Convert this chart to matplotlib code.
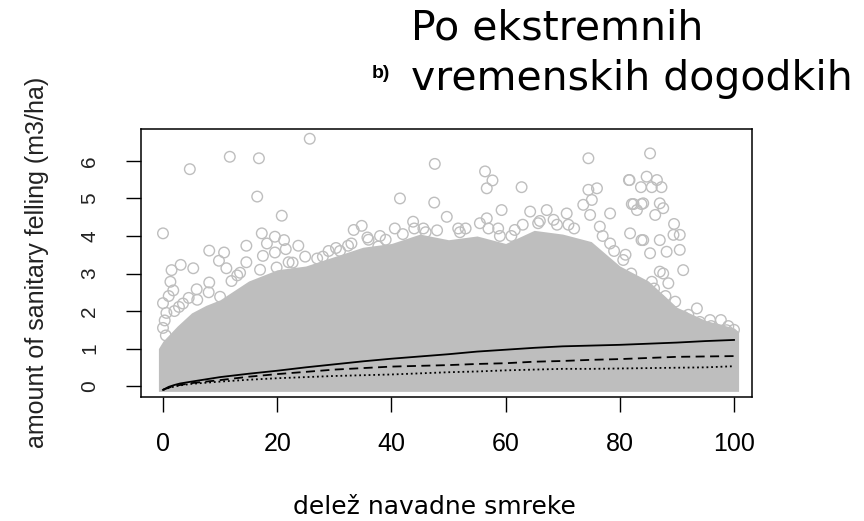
import matplotlib
matplotlib.use("Agg")
import matplotlib.pyplot as plt

# dense part of the cloud: top edge
cloud_x = [-0.8, 0, 2.5, 5, 7.5, 10, 15, 20, 25, 30, 35, 40, 45, 50, 55,
           60, 65, 70, 75, 80, 85, 90, 95, 100, 100.8]
cloud_top = [1.0, 1.2, 1.6, 1.95, 2.15, 2.3, 2.8, 3.1, 3.2, 3.45, 3.7, 3.8, 4.05,
             3.9, 4.0, 3.8, 4.15, 4.05, 3.85, 3.2, 2.8, 2.1, 1.75, 1.55, 1.45]
cloud_bottom = -0.14

# single points standing out above the cloud
pts_x = [25.7, 11.7, 16.8, 4.7, 16.5, 20.8, 0.0, 17.3, 19.6, 18.2, 14.6, 21.2,
         23.7, 21.5, 19.6, 8.1, 10.7, 9.8, 11.1, 5.3, 3.1, 1.5, 1.3, 14.6, 13.5,
         17.5, 24.9, 22.7, 19.9, 8.1, 5.9, 0.0, 0.6, 0.0, 2.8, 10.0, 28.0, 30.3,
         32.4, 33.4, 34.8, 35.8, 37.7,
         47.6, 74.5, 85.3, 41.5, 47.5, 56.4, 57.7, 56.7, 62.8, 74.5, 76.0, 75.1,
         81.6, 84.7, 86.5, 83.7, 85.6, 87.3, 73.6, 82.4, 84.1, 87.0, 64.3, 67.2,
         70.7, 78.3, 59.3, 56.7, 49.7, 43.8, 40.6, 45.6, 51.7, 55.5, 58.7, 61.6,
         65.7, 68.4, 74.8, 76.5, 83.0, 86.2, 81.8, 84.1, 87.0, 85.3, 87.6, 87.0,
         88.2, 78.3, 73.6, 80.6, 78.9,
         81.7, 82.1, 83.8, 87.6, 89.5, 90.5, 89.4, 90.5, 83.8, 88.2, 91.1, 87.0,
         85.6, 88.5, 89.7, 87.3, 93.5, 91.1, 88.8, 91.1, 95.8, 97.7, 94.0, 98.7,
         0.3, 1.0, 1.8, 0.5, 2.0, 3.5, 4.5,
         6, 8, 12, 13, 17, 22, 27, 29, 31, 33, 36, 38, 39, 42, 44, 46, 48, 52,
         53, 57, 59, 61, 63, 66, 69, 71, 72, 77, 79, 81, 82, 83, 86, 88, 92, 94,
         96, 99, 100]
pts_y = [6.59, 6.11, 6.07, 5.78, 5.05, 4.54, 4.07, 4.07, 3.98, 3.80, 3.74, 3.89,
         3.74, 3.65, 3.56, 3.61, 3.56, 3.34, 3.14, 3.14, 3.23, 3.09, 2.78, 3.30, 3.02,
         3.47, 3.45, 3.29, 3.16, 2.76, 2.58, 2.21, 1.95, 1.55, 2.11, 2.38, 3.45, 3.68,
         3.74, 4.16, 4.27, 3.96, 3.72,
         5.92, 6.07, 6.20, 5.00, 4.89, 5.72, 5.48, 5.27, 5.30, 5.23, 5.27, 4.96,
         5.49, 5.58, 5.49, 5.30, 5.30, 5.30, 4.83, 4.85, 4.87, 4.87, 4.65, 4.69,
         4.60, 4.60, 4.69, 4.47, 4.51, 4.38, 4.20, 4.20, 4.20, 4.34, 4.20, 4.16,
         4.34, 4.43, 4.56, 4.25, 4.69, 4.56, 4.07, 3.89, 3.89, 3.54, 3.00, 2.29,
         1.76, 3.80, 3.36, 3.36, 3.00,
         5.49, 4.85, 4.85, 4.74, 4.32, 4.03, 4.03, 3.63, 3.89, 3.58, 3.09, 3.05,
         2.78, 2.74, 2.25, 2.25, 2.07, 1.85, 1.76, 1.54, 1.76, 1.76, 1.71, 1.49,
         1.75, 2.40, 2.55, 1.35, 2.00, 2.20, 2.35,
         2.3, 2.5, 2.8, 2.95, 3.1, 3.3, 3.4, 3.6, 3.6, 3.8, 3.9, 4.0, 3.9, 4.05,
         4.2, 4.1, 4.15, 4.1, 4.2, 4.2, 4.0, 4.0, 4.3, 4.4, 4.3, 4.3, 4.2, 4.0,
         3.6, 3.5, 3.0, 2.7, 2.6, 2.4, 1.9, 1.6, 1.6, 1.6, 1.5]

# three fitted lines
line_x = [0, 1, 2, 3, 5, 7.5, 10, 15, 20, 25, 30, 35, 40, 45, 50, 55, 60, 65,
          70, 75, 80, 85, 90, 95, 100]
solid_y = [-0.10, -0.02, 0.03, 0.07, 0.12, 0.18, 0.24, 0.33, 0.41, 0.50, 0.58,
           0.66, 0.73, 0.79, 0.85, 0.92, 0.97, 1.02, 1.06, 1.08, 1.10, 1.13, 1.16,
           1.20, 1.23]
dashed_y = [-0.10, -0.04, 0.00, 0.03, 0.08, 0.12, 0.16, 0.25, 0.32, 0.38, 0.44,
            0.48, 0.52, 0.54, 0.56, 0.59, 0.61, 0.65, 0.67, 0.70, 0.72, 0.75, 0.78,
            0.79, 0.80]
dotted_y = [-0.10, -0.05, -0.01, 0.02, 0.06, 0.09, 0.12, 0.17, 0.21, 0.24, 0.27,
            0.29, 0.31, 0.34, 0.37, 0.39, 0.42, 0.44, 0.46, 0.46, 0.47, 0.48, 0.49,
            0.50, 0.53]

grey = "#bebebe"
W, H = 864, 521
fig = plt.figure(figsize=(W / 100, H / 100), dpi=100)
ax = fig.add_axes([141 / W, 1 - 397 / H, (752 - 141) / W, (397 - 129) / H])

ax.fill_between(cloud_x, cloud_bottom, cloud_top, color=grey, lw=0, zorder=1)
ax.scatter(pts_x, pts_y, s=58, facecolors="none", edgecolors=grey,
           linewidths=1.0, zorder=2)

ax.plot(line_x, solid_y, color="black", lw=1.3, zorder=3)
ax.plot(line_x, dashed_y, color="black", lw=1.3, dashes=(5, 3), zorder=3)
ax.plot(line_x, dotted_y, color="black", lw=1.3, dashes=(1, 1.6), zorder=3)

ax.set_xlim(-3.85, 103.15)
ax.set_ylim(-0.29, 6.85)
ax.set_xticks([0, 20, 40, 60, 80, 100])
ax.set_yticks([0, 1, 2, 3, 4, 5, 6])
for s in ax.spines.values():
    s.set_linewidth(1.1)
ax.tick_params(axis="both", direction="out", length=11, width=1.0)
ax.tick_params(axis="x", pad=14, labelsize=18)
ax.tick_params(axis="y", pad=19, labelsize=15)
for lab in ax.get_xticklabels():
    lab.set_family("Liberation Sans")
for lab in ax.get_yticklabels():
    lab.set_family("Liberation Sans")
    lab.set_rotation(90)
    lab.set_va("center")
    lab.set_color("#222222")

fig.text(37 / W, 1 - 262 / H, "amount of sanitary felling (m3/ha)",
         rotation=90, ha="center", va="center", fontsize=18,
         family="Liberation Sans", color="#222222")
fig.text(434 / W, 1 - 514 / H, "delež navadne smreke", ha="center",
         va="baseline", fontsize=18, family="DejaVu Sans")
fig.text(372 / W, 1 - 78 / H, "b)", ha="left", va="baseline", fontsize=14,
         weight="bold", family="Liberation Sans")
fig.text(411 / W, 1 - 40 / H, "Po ekstremnih", ha="left", va="baseline",
         fontsize=29.5, family="DejaVu Sans")
fig.text(411 / W, 1 - 90 / H, "vremenskih dogodkih", ha="left", va="baseline",
         fontsize=29.5, family="DejaVu Sans")

fig.savefig("out.png", dpi=100)
